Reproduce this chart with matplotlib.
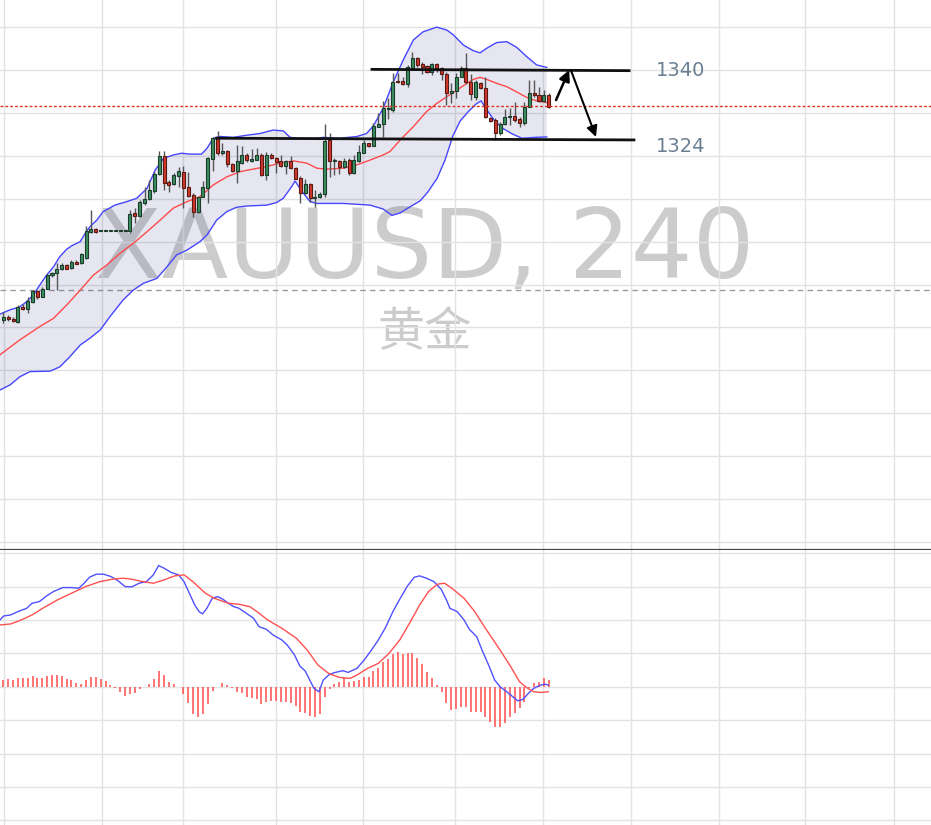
import matplotlib
matplotlib.use('Agg')
import matplotlib.pyplot as plt
import numpy as np

# ---------------- data ----------------
opens = [1281.7,1282.4,1282.0,1281.3,1284.7,1284.2,1285.9,1288.5,1287.2,1289.0,
         1292.1,1292.6,1293.5,1294.5,1293.8,1295.2,1294.9,1296.2,1302.3,1302.9,
         1302.4,1302.4,1302.4,1302.4,1302.4,1302.4,1302.4,1306.6,1306.0,1309.0,
         1309.9,1311.9,1315.7,1320.0,1313.9,1313.4,1315.4,1316.2,1312.7,1310.9,
         1306.8,1310.5,1312.6,1319.3,1324.3,1320.6,1321.1,1318.0,1316.5,1318.4,
         1320.3,1318.9,1319.1,1320.2,1315.5,1320.3,1319.5,1318.8,1317.7,1318.7,
         1317.1,1314.8,1311.4,1313.4,1310.1,1310.3,1311.0,1323.8,1318.7,1318.8,
         1317.4,1319.0,1315.9,1318.9,1320.7,1322.9,1322.4,1326.8,1327.3,1330.9,
         1330.7,1337.5,1337.4,1336.7,1340.5,1342.7,1341.4,1340.9,1339.6,1341.3,
         1340.4,1339.0,1334.7,1335.2,1338.4,1340.4,1337.1,1333.8,1336.9,1335.7,
         1328.7,1328.3,1325.2,1327.5,1329.0,1329.3,1328.6,1327.6,1331.4,1334.6,
         1334.2,1332.8,1334.2]
highs = [1283.6,1282.9,1282.4,1285.2,1285.4,1287.0,1288.8,1288.7,1289.5,1292.4,
         1293.0,1294.9,1294.9,1294.8,1295.7,1295.6,1297.3,1303.6,1307.4,1303.2,
         1302.4,1302.4,1302.4,1302.4,1302.4,1302.4,1307.4,1307.8,1309.7,1312.8,
         1314.4,1316.3,1321.1,1321.1,1314.4,1315.9,1317.5,1317.6,1316.3,1311.3,
         1310.5,1314.1,1319.8,1324.4,1325.8,1323.1,1321.4,1318.4,1322.5,1322.3,
         1320.6,1321.7,1321.9,1320.6,1320.9,1320.7,1319.8,1320.3,1319.0,1320.0,
         1317.5,1315.3,1314.5,1313.7,1312.0,1311.6,1327.4,1325.4,1319.4,1319.0,
         1319.4,1319.4,1320.2,1322.5,1323.7,1323.1,1327.6,1329.9,1332.8,1333.5,
         1339.2,1339.2,1338.4,1341.2,1344.3,1343.1,1341.9,1341.2,1341.6,1341.7,
         1340.6,1339.6,1336.9,1339.2,1340.9,1343.9,1339.1,1337.7,1337.3,1338.4,
         1329.1,1328.7,1327.9,1330.8,1331.1,1332.6,1329.1,1332.6,1337.7,1337.7,
         1336.1,1335.3,1334.6]
lows = [1281.0,1281.5,1281.3,1281.0,1284.1,1283.3,1285.7,1286.7,1287.0,1288.9,
        1291.8,1288.7,1293.4,1293.5,1293.6,1294.7,1294.8,1295.9,1302.1,1302.0,
        1302.4,1302.4,1302.4,1302.4,1302.4,1302.4,1301.9,1304.3,1305.8,1308.5,
        1309.7,1311.3,1315.5,1312.0,1311.6,1313.2,1312.8,1307.8,1310.5,1305.8,
        1306.6,1310.3,1309.1,1316.5,1320.3,1320.3,1317.5,1316.3,1313.6,1318.1,
        1318.6,1318.6,1319.0,1315.3,1314.4,1319.2,1315.9,1317.5,1315.8,1316.9,
        1314.5,1309.1,1311.2,1309.3,1308.1,1310.1,1310.5,1315.0,1315.5,1315.8,
        1317.1,1315.5,1315.8,1318.6,1320.6,1322.1,1322.3,1326.6,1324.5,1328.5,
        1330.3,1336.9,1336.5,1336.1,1340.4,1340.8,1339.0,1339.4,1338.8,1339.6,
        1337.7,1331.8,1332.2,1333.4,1338.4,1336.7,1333.0,1333.0,1335.5,1328.7,
        1327.9,1323.8,1324.8,1327.2,1327.2,1327.9,1326.8,1327.2,1331.3,1333.8,
        1332.6,1332.6,1331.1]
closes = [1282.4,1281.9,1281.5,1284.7,1284.2,1286.2,1288.5,1287.0,1289.0,1292.1,
          1292.7,1293.5,1294.5,1293.7,1295.2,1294.8,1297.0,1302.5,1302.9,1302.2,
          1302.4,1302.4,1302.4,1302.4,1302.4,1302.4,1306.4,1306.0,1309.3,1310.0,
          1312.0,1315.8,1320.0,1313.7,1313.3,1315.5,1316.5,1312.6,1310.7,1306.8,
          1310.3,1312.7,1319.5,1324.1,1320.6,1321.1,1318.0,1316.5,1318.8,1320.3,
          1319.0,1319.3,1320.2,1315.5,1320.2,1319.4,1318.6,1317.7,1318.8,1317.1,
          1314.7,1311.4,1313.4,1310.1,1310.4,1311.1,1323.5,1318.9,1319.0,1317.5,
          1318.8,1315.9,1319.0,1320.8,1322.9,1322.4,1326.9,1327.3,1331.1,1331.2,
          1337.1,1337.1,1336.7,1340.6,1342.7,1341.2,1340.8,1339.6,1341.3,1340.4,
          1339.0,1334.7,1335.1,1338.4,1340.4,1337.1,1334.5,1337.1,1335.7,1329.0,
          1328.2,1325.2,1327.5,1329.0,1329.3,1328.3,1327.6,1331.4,1334.6,1334.1,
          1332.8,1334.2,1331.3]

# Bollinger bands
ub_x = [-0.7,1.4,3.4,4.8,6.2,7.5,8.9,10.3,11.6,13.0,14.0,15.8,16.8,17.8,19.2,20.5,22.9,25.3,27.4,29.5,
        31.2,32.9,34.9,36.6,38.3,40.7,41.8,43.1,44.5,47.2,50.0,52.7,55.4,57.5,58.9,60.9,64.4,65.7,69.1,72.6,
        74.6,76.0,78.0,80.1,82.1,84.2,86.2,89.0,91.1,92.4,94.5,96.5,97.9,99.3,101.3,103.4,105.4,107.5,109.5,111.6]
ub_y = [1283.1,1284.1,1284.8,1286.0,1287.6,1289.9,1292.2,1294.1,1296.5,1298.2,1299.0,1300.0,1301.9,1303.5,1305.0,1307.0,1308.5,1309.3,1310.1,1312.4,
        1316.7,1319.4,1320.2,1320.6,1320.4,1320.4,1321.7,1324.1,1324.5,1324.3,1324.8,1325.2,1326.0,1325.8,1324.3,1324.1,1324.1,1324.3,1324.1,1324.5,
        1325.2,1327.0,1331.1,1337.3,1342.3,1347.0,1348.9,1350.0,1349.3,1348.2,1345.8,1344.5,1344.0,1345.1,1346.4,1346.6,1345.3,1343.1,1341.2,1340.6]
lb_x = [-0.7,1.4,3.4,5.5,9.6,11.6,13.7,15.8,17.8,19.9,21.9,24.6,26.7,28.8,31.5,33.6,35.6,37.7,40.4,41.8,
        43.8,45.9,47.9,50.0,54.1,56.1,57.5,59.2,59.9,61.6,63.0,64.4,67.1,69.8,75.3,78.0,79.8,81.5,83.5,85.6,
        87.2,89.1,90.7,92.3,93.8,95.4,97.1,98.1,99.3,100.8,102.4,104.5,106.5,109.2,111.6]
lb_y = [1265.4,1266.6,1268.5,1269.7,1269.8,1270.8,1273.2,1275.9,1277.5,1279.4,1282.5,1286.4,1288.7,1290.3,1291.4,1294.1,1296.9,1298.0,1300.0,1301.5,
        1305.0,1307.0,1308.0,1308.3,1308.5,1309.1,1310.1,1312.8,1314.1,1311.3,1309.3,1308.9,1308.9,1308.9,1308.5,1307.6,1306.1,1306.7,1308.1,1309.5,
        1311.6,1314.8,1319.0,1324.6,1328.1,1330.2,1332.1,1332.8,1330.7,1328.3,1326.5,1325.1,1324.1,1324.3,1324.4]
mb_x = [-0.7,3.4,7.5,10.3,13.0,15.8,18.5,21.2,24.0,26.7,29.5,32.2,34.9,37.7,40.4,43.1,45.9,48.6,51.3,54.1,
        56.8,59.6,62.3,64.4,66.4,69.8,72.6,75.3,78.0,79.4,81.5,84.2,86.9,89.0,91.1,93.1,95.2,96.5,97.9,99.3,
        101.3,103.4,105.4,107.5,109.5,111.6]
mb_y = [1273.6,1277.1,1280.2,1282.1,1285.2,1288.7,1292.2,1294.5,1297.3,1299.6,1302.3,1305.0,1307.8,1309.3,1310.5,1313.2,1315.1,1316.3,1316.9,1317.5,
        1318.3,1318.8,1318.3,1317.1,1316.9,1317.1,1317.9,1319.0,1320.2,1321.0,1323.7,1326.8,1330.3,1332.2,1333.8,1335.3,1336.9,1337.8,1338.3,1337.8,
        1336.9,1336.1,1334.9,1333.6,1332.8,1332.4]

# MACD
macd_x = [-0.7,0.1,1.5,3.0,4.8,5.9,7.4,8.9,10.3,12.2,14.0,15.5,16.6,17.7,19.1,20.6,22.1,23.5,25.0,26.4,
          27.9,29.4,30.8,31.9,33.0,34.5,36.0,37.1,38.2,39.3,40.2,40.9,41.8,42.9,44.0,45.1,46.2,47.3,48.4,49.9,
          51.4,52.5,54.0,55.4,57.2,58.3,59.8,60.9,62.0,63.1,63.8,64.8,65.7,66.8,67.9,69.7,70.8,72.6,74.1,75.6,
          77.0,78.5,80.0,81.4,82.9,84.4,85.5,86.9,88.4,89.9,91.0,91.7,93.2,94.6,95.7,97.2,98.3,99.8,100.9,102.0,
          103.4,105.6,106.7,107.8,108.9,110.0,111.1,111.9]
macd_y = [4.00,4.24,4.30,4.50,4.70,5.00,5.10,5.44,5.70,5.94,5.94,5.90,6.20,6.56,6.74,6.74,6.60,6.36,6.00,5.98,
          6.20,6.30,6.70,7.26,7.10,6.84,6.70,6.30,5.60,4.90,4.50,4.36,4.70,5.30,5.40,5.24,5.00,4.80,4.70,4.40,
          4.10,3.60,3.44,3.10,2.80,2.50,1.90,1.24,0.94,0.30,-0.10,-0.30,0.40,0.70,0.84,0.96,0.86,1.10,1.60,2.20,
          2.80,3.56,4.50,5.24,6.00,6.56,6.64,6.50,6.30,5.84,5.20,4.70,4.50,4.00,3.44,3.00,2.20,1.20,0.40,0.00,
          -0.30,-0.84,-0.76,-0.40,-0.10,0.06,0.16,0.10]
sig_x = [-0.7,1.5,3.7,5.9,8.1,11.1,14.0,16.9,19.9,22.8,24.6,26.4,28.6,30.8,33.0,35.2,37.1,38.9,41.5,43.3,
         46.2,48.4,50.6,52.1,54.3,57.2,60.2,62.4,64.6,66.8,69.0,71.2,72.6,74.8,77.0,79.2,81.4,83.6,85.5,87.3,
         89.1,90.6,92.1,94.6,96.8,99.0,102.0,104.2,106.0,107.5,108.9,110.4,111.9]
sig_y = [3.70,3.76,4.00,4.30,4.70,5.20,5.60,6.00,6.30,6.46,6.50,6.44,6.30,6.20,6.40,6.64,6.70,6.30,5.60,5.30,
         5.00,4.94,4.80,4.50,4.00,3.50,2.90,2.20,1.30,0.80,0.56,0.50,0.70,1.10,1.40,2.00,2.80,3.90,4.90,5.70,
         6.14,6.20,5.90,5.30,4.50,3.50,2.20,1.20,0.30,-0.06,-0.30,-0.34,-0.30]
hist = [0.40,0.46,0.40,0.52,0.52,0.52,0.64,0.54,0.54,0.64,
        0.70,0.70,0.64,0.44,0.40,0.20,0.16,0.40,0.60,0.60,
        0.44,0.34,0.10,-0.06,-0.30,-0.54,-0.46,-0.40,-0.14,-0.02,
        0.16,0.46,0.94,0.70,0.30,0.16,0.0,-0.44,-1.0,-1.64,
        -1.80,-1.64,-1.04,-0.24,0.0,0.20,0.10,-0.10,-0.30,-0.40,
        -0.60,-0.70,-0.76,-1.04,-0.90,-0.84,-0.84,-0.90,-0.94,-1.00,
        -1.14,-1.54,-1.56,-1.74,-1.80,-1.66,-0.60,-0.16,0.16,0.30,
        0.50,0.30,0.36,0.40,0.60,0.60,0.94,1.14,1.46,1.66,
        1.96,2.10,1.96,2.00,2.00,1.70,1.36,0.90,0.54,0.10,
        -0.30,-0.96,-1.40,-1.36,-1.20,-1.24,-1.54,-1.50,-1.50,-1.80,
        -2.10,-2.44,-2.44,-2.20,-1.84,-1.60,-1.30,-0.90,-0.10,0.24,
        0.30,0.50,0.40]

current_price = 1331.6
ref_level = 1288.7
resistance = 1340
support = 1324
level_labels = ['1340', '1324']
grid_x = [0.06, 20.2, 37.0, 55.9, 73.9, 92.8, 110.9, 128.8, 146.9, 164.7, 182.8]
price_grid = list(range(1230, 1351, 10))
macd_grid = list(range(-8, 9, 2))
title = 'XAUUSD, 240'
subtitle = '黄金'

# ---------------- figure ----------------
W, H = 931, 825
fig = plt.figure(figsize=(W/100, H/100), dpi=100)
fig.patch.set_facecolor('white')
ax = fig.add_axes([0, 275/H, 1, 550/H])
ax2 = fig.add_axes([0, 0, 1, 275/H])

xlim = (-0.678, 190.49)
for a in (ax, ax2):
    a.set_xlim(*xlim)
    a.set_xticks(grid_x)
    a.tick_params(length=0, labelleft=False, labelbottom=False)
    a.grid(True, color='#e2e2e2', lw=1.0, zorder=0)
    a.set_axisbelow(True)
    for s in a.spines.values():
        s.set_visible(False)
ax.set_ylim(1228.11, 1356.32)
ax.set_yticks(price_grid)
ax2.set_ylim(-8.28, 8.19)
ax2.set_yticks(macd_grid)
ax.spines['bottom'].set_visible(True)
ax.spines['bottom'].set_color('#444444')
ax.spines['bottom'].set_linewidth(1.6)

# watermark
ax.text(425/W, 1-278/H, title, transform=fig.transFigure, fontsize=70,
        color='black', alpha=0.2, ha='center', va='baseline', zorder=0.5,
        family='DejaVu Sans')
ax.text(425/W, 1-333/H, subtitle, transform=fig.transFigure, fontsize=34,
        color='black', alpha=0.2, ha='center', va='center', zorder=0.5,
        family=['Noto Sans CJK SC', 'DejaVu Sans'])

# reference lines
ax.axhline(ref_level, color='#9a9a9a', lw=1, ls=(0, (4, 3)), zorder=1)
ax.axhline(current_price, color='#e0301e', lw=1, ls=(0, (2, 1.5)), zorder=6)

# Bollinger band
poly_x = np.concatenate([ub_x, lb_x[::-1]])
poly_y = np.concatenate([ub_y, lb_y[::-1]])
ax.fill(poly_x, poly_y, facecolor=(0.2, 0.2, 0.55, 0.12), edgecolor='none', zorder=1)
ax.plot(ub_x, ub_y, color='#4646ff', lw=1.0, zorder=2)
ax.plot(lb_x, lb_y, color='#4646ff', lw=1.0, zorder=2)
ax.plot(mb_x, mb_y, color='#ff4a4a', lw=1.0, zorder=2)

# candles
o = np.array(opens); h = np.array(highs); l = np.array(lows); c = np.array(closes)
idx = np.arange(len(o))
up = c >= o
ax.vlines(idx, l, h, color='#555555', lw=1.0, zorder=3)
bb = np.minimum(o, c)
bh = np.maximum(np.abs(c - o), 0.25)
ax.bar(idx[up], bh[up], bottom=bb[up], width=0.62, color='#3a8f5e',
       edgecolor='#1d3b2a', lw=0.8, zorder=4)
ax.bar(idx[~up], bh[~up], bottom=bb[~up], width=0.62, color='#d2362b',
       edgecolor='#5a1a14', lw=0.8, zorder=4)

# support / resistance lines
ax.plot([75.7, 128.5], [resistance + 0.15, resistance - 0.15], color='#111111', lw=2.0, zorder=5)
ax.plot([43.8, 129.5], [support + 0.1, support - 0.3], color='#111111', lw=2.0, zorder=5)
ax.text(134.0, resistance, level_labels[0], fontsize=14, color='#6b7f92',
        ha='left', va='center', zorder=6)
ax.text(134.0, support - 1.8, level_labels[1], fontsize=14, color='#6b7f92',
        ha='left', va='center', zorder=6)

# arrows
ax.annotate('', xy=(116.2, 1340.0), xytext=(113.5, 1333.0),
            arrowprops=dict(arrowstyle='-|>', color='black', lw=1.8,
                            mutation_scale=16, shrinkA=0, shrinkB=0), zorder=6)
ax.annotate('', xy=(121.7, 1324.4), xytext=(116.6, 1339.8),
            arrowprops=dict(arrowstyle='-|>', color='black', lw=1.5,
                            mutation_scale=16, shrinkA=0, shrinkB=0), zorder=6)

# MACD pane
ax2.vlines(idx, 0, hist, color='#ff4d4d', lw=1.1, zorder=2)
ax2.plot(macd_x, macd_y, color='#5050ff', lw=1.0, zorder=3)
ax2.plot(sig_x, sig_y, color='#ff5050', lw=1.0, zorder=3)

fig.savefig('out.png', dpi=100, facecolor='white')
